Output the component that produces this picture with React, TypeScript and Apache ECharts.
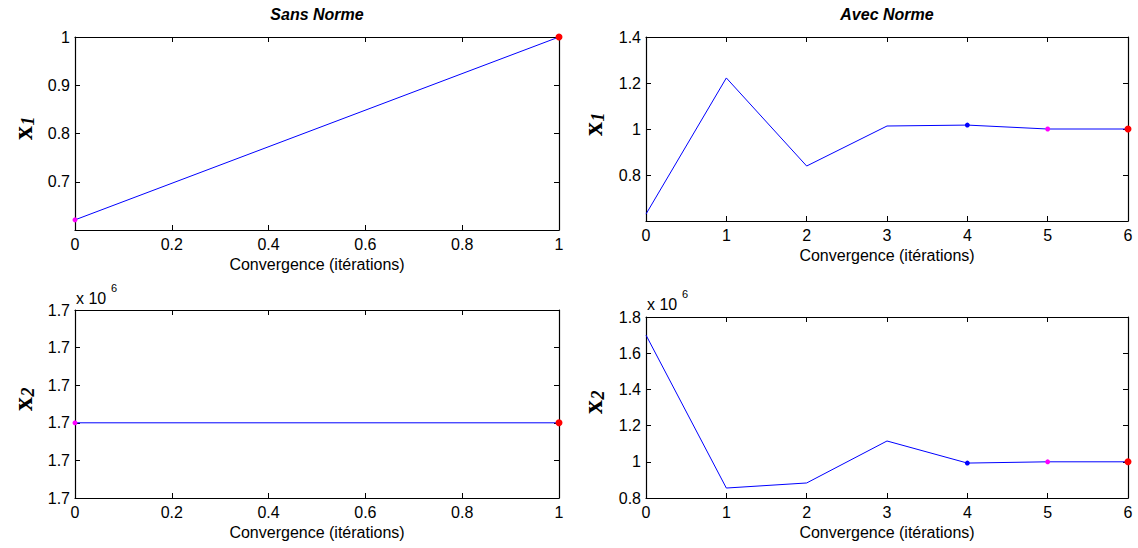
import React, { useEffect, useRef } from "react";
import * as echarts from "echarts";

// Data
const iterSans = [0, 1];
const x1Sans = [0.621, 1.0];
const x2Sans = [1.7, 1.7]; // ×10^6
const iterAvec = [0, 1, 2, 3, 4, 5, 6];
const x1Avec = [0.63, 1.222, 0.839, 1.013, 1.017, 1.0, 1.0];
const x2Avec = [1.7, 0.855, 0.883, 1.115, 0.993, 1.0, 1.0]; // ×10^6

// highlighted points: index -> colour
const markSans = [
  { i: 0, color: "#ff00ff", size: 5 },
  { i: 1, color: "#ff0000", size: 7 },
];
const markAvec = [
  { i: 4, color: "#0000ff", size: 5 },
  { i: 5, color: "#ff00ff", size: 5 },
  { i: 6, color: "#ff0000", size: 7 },
];

const titles = ["Sans Norme", "Avec Norme"];
const xName = "Convergence (itérations)";

const FONT = "Liberation Sans, Arial, sans-serif";

function buildData(xs: number[], ys: number[], marks: any[]) {
  return xs.map((x, k) => {
    const m = marks.find((mm) => mm.i === k);
    if (m) {
      return {
        value: [x, ys[k]],
        symbol: "circle",
        symbolSize: m.size,
        itemStyle: { color: m.color },
      };
    }
    return { value: [x, ys[k]], symbol: "none" };
  });
}

export default function App() {
  const ref = useRef<HTMLDivElement>(null);
  useEffect(() => {
    if (!ref.current) return;
    const chart = echarts.init(ref.current, null, { renderer: "svg" });

    const grids = [
      { left: 75, top: 37, width: 484, height: 193 },
      { left: 646, top: 37, width: 482, height: 184 },
      { left: 75, top: 310, width: 484, height: 188 },
      { left: 646, top: 317, width: 482, height: 181 },
    ];

    const xRanges = [
      { min: 0, max: 1, interval: 0.2 },
      { min: 0, max: 6, interval: 1 },
      { min: 0, max: 1, interval: 0.2 },
      { min: 0, max: 6, interval: 1 },
    ];
    const yRanges: any[] = [
      { min: 0.6, max: 1, interval: 0.1, showMin: false },
      { min: 0.6, max: 1.4, interval: 0.2, showMin: false },
      {
        min: 1.6999998,
        max: 1.7000003,
        interval: 0.0000001,
        showMin: true,
        fmt: (v: number) => v.toFixed(1),
      },
      { min: 0.8, max: 1.8, interval: 0.2, showMin: true },
    ];

    const xAxis: any[] = [];
    const yAxis: any[] = [];
    grids.forEach((g, gi) => {
      const xr = xRanges[gi];
      const yr = yRanges[gi];
      const common = {
        type: "value",
        gridIndex: gi,
        splitLine: { show: false },
        axisLine: { show: true, onZero: false, lineStyle: { color: "#000", width: 1.2 } },
        axisTick: { show: true, inside: true, length: 5, lineStyle: { color: "#000", width: 1 } },
      };
      xAxis.push({
        ...common,
        min: xr.min,
        max: xr.max,
        interval: xr.interval,
        position: "bottom",
        axisLabel: { color: "#000", fontSize: 16, fontFamily: FONT, margin: 6 },
        name: xName,
        nameLocation: "middle",
        nameGap: 26,
        nameTextStyle: { color: "#000", fontSize: 16, fontFamily: FONT },
      });
      xAxis.push({
        ...common,
        min: xr.min,
        max: xr.max,
        interval: xr.interval,
        position: "top",
        axisLabel: { show: false },
      });
      yAxis.push({
        ...common,
        min: yr.min,
        max: yr.max,
        interval: yr.interval,
        position: "left",
        axisLabel: {
          color: "#000",
          fontSize: 16,
          fontFamily: FONT,
          margin: 5,
          showMinLabel: yr.showMin,
          formatter: yr.fmt ? yr.fmt : undefined,
        },
      });
      yAxis.push({
        ...common,
        min: yr.min,
        max: yr.max,
        interval: yr.interval,
        position: "right",
        axisLabel: { show: false },
      });
    });

    const lineStyle = { color: "#0000ff", width: 1 };
    const mk = (gi: number, xs: number[], ys: number[], marks: any[]) => ({
      type: "line",
      xAxisIndex: gi * 2,
      yAxisIndex: gi * 2,
      data: buildData(xs, ys, marks),
      symbol: "none",
      showSymbol: true,
      lineStyle,
      itemStyle: { color: "#0000ff" },
      clip: false,
      z: 3,
    });

    const series = [
      mk(0, iterSans, x1Sans, markSans),
      mk(1, iterAvec, x1Avec, markAvec),
      mk(2, iterSans, x2Sans, markSans),
      mk(3, iterAvec, x2Avec, markAvec),
    ];

    const yLabel = (x: number, y: number, sub: string) => ({
      type: "group",
      x,
      y,
      rotation: Math.PI / 2,
      children: [
        {
          type: "text",
          x: 0,
          y: 0,
          style: {
            text: "x",
            font: "bold 28px 'Liberation Serif', 'Times New Roman', serif",
            fill: "#000",
            align: "center",
            verticalAlign: "middle",
          },
        },
        {
          type: "text",
          x: 12,
          y: 6,
          style: {
            text: sub,
            font: "italic bold 18px 'Liberation Serif', 'Times New Roman', serif",
            fill: "#000",
            align: "center",
            verticalAlign: "middle",
          },
        },
      ],
    });

    const sci = (x: number, y: number) => ({
      type: "group",
      x,
      y,
      children: [
        {
          type: "text",
          x: 0,
          y: 0,
          style: { text: "x 10", font: `16px ${FONT}`, fill: "#000", verticalAlign: "middle" },
        },
        {
          type: "text",
          x: 35,
          y: -10,
          style: { text: "6", font: `11px ${FONT}`, fill: "#000", verticalAlign: "middle" },
        },
      ],
    });

    const graphic: any[] = [
      {
        type: "text",
        x: 317,
        y: 14,
        style: {
          text: titles[0],
          font: `italic bold 16px ${FONT}`,
          fill: "#000",
          align: "center",
          verticalAlign: "middle",
        },
      },
      {
        type: "text",
        x: 887,
        y: 14,
        style: {
          text: titles[1],
          font: `italic bold 16px ${FONT}`,
          fill: "#000",
          align: "center",
          verticalAlign: "middle",
        },
      },
      yLabel(22, 133, "1"),
      yLabel(592, 129, "1"),
      yLabel(22, 404, "2"),
      yLabel(592, 407, "2"),
      sci(76, 298),
      sci(647, 304),
    ];

    chart.setOption({
      animation: false,
      backgroundColor: "#fff",
      grid: grids,
      xAxis,
      yAxis,
      series,
      graphic,
    });
    return () => chart.dispose();
  }, []);

  return (
    <div
      ref={ref}
      style={{ position: "fixed", left: 0, top: 0, width: 1138, height: 548, background: "#fff" }}
    />
  );
}
